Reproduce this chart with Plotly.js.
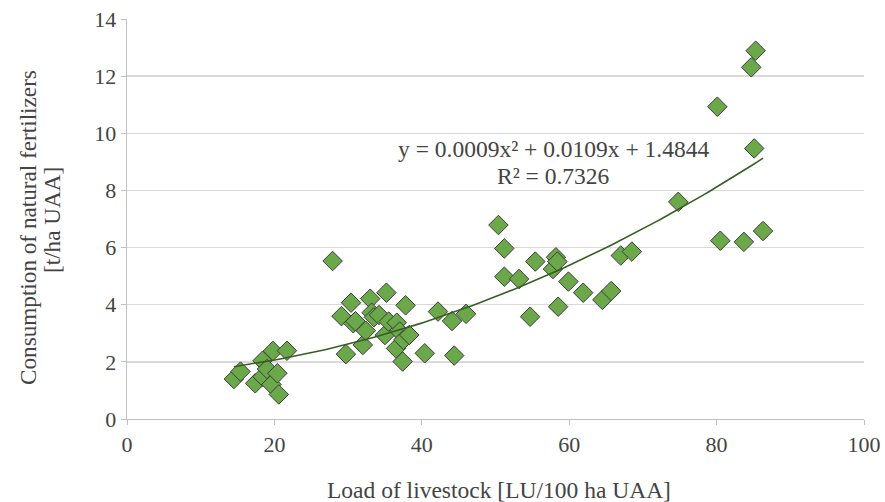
<!DOCTYPE html>
<html>
<head>
<meta charset="utf-8">
<script src="https://cdn.plot.ly/plotly-3.0.1.min.js"></script>
<style>html,body{margin:0;padding:0;background:#fff;}</style>
</head>
<body>
<div id="chart" style="width:885px;height:502px"></div>
<script>
// Load of livestock [LU/100 ha UAA]
const livestock = [14.5, 15.4, 17.4, 18.4, 18.4, 19.0, 19.6, 19.8, 20.4, 20.6, 21.7,
  27.9, 29.1, 29.7, 30.4, 30.7, 31.0, 32.0, 32.4, 33.0, 33.2, 33.5, 34.2, 35.0, 35.2, 35.5,
  36.5, 36.6, 37.0, 37.4, 37.5, 37.8, 38.3, 40.4, 42.2, 44.1, 44.4, 46.0,
  50.4, 51.2, 51.2, 53.2, 54.7, 55.4, 57.8, 58.2, 58.4, 58.5, 59.9, 61.9, 64.5, 65.7, 67.0, 68.5,
  74.8, 80.1, 80.5, 83.7, 84.7, 85.1, 85.3, 86.3];
// Consumption of natural fertilizers [t/ha UAA]
const fertilizer = [1.40, 1.66, 1.25, 2.04, 1.48, 1.75, 1.21, 2.38, 1.60, 0.86, 2.39,
  5.53, 3.60, 2.27, 4.07, 3.35, 3.42, 2.59, 3.09, 4.21, 3.72, 3.56, 3.64, 2.94, 4.42, 3.41,
  2.47, 3.37, 3.06, 2.01, 2.77, 3.98, 2.94, 2.30, 3.76, 3.43, 2.22, 3.68,
  6.79, 5.97, 4.98, 4.90, 3.58, 5.51, 5.25, 5.66, 5.51, 3.93, 4.81, 4.42, 4.17, 4.48, 5.72, 5.86,
  7.60, 10.93, 6.24, 6.20, 12.31, 9.47, 12.89, 6.58];
// Polynomial trendline coefficients (from the chart's equation)
const trendCoef = [0.0009, 0.0109, 1.4844]; // a, b, c
const trendLabel = ["y = 0.0009x\u00b2 + 0.0109x + 1.4844", "R\u00b2 = 0.7326"];
const xTitle = "Load of livestock [LU/100 ha UAA]";
const yTitleLines = ["Consumption of natural fertilizers", "[t/ha UAA]"];
const xTicks = [0, 20, 40, 60, 80, 100];
const yTicks = [0, 2, 4, 6, 8, 10, 12, 14];

const xmin = Math.min(...livestock), xmax = Math.max(...livestock);
const tx = [], ty = [];
for (let i = 0; i <= 100; i++) {
  const x = xmin + (xmax - xmin) * i / 100;
  tx.push(x);
  ty.push(trendCoef[0] * x * x + trendCoef[1] * x + trendCoef[2]);
}

const data = [
  {x: livestock, y: fertilizer, type: 'scatter', mode: 'markers',
   marker: {symbol: 'diamond', size: 15, color: '#6aa84a', line: {color: '#3d3d3d', width: 1}},
   hoverinfo: 'x+y', showlegend: false},
  {x: tx, y: ty, type: 'scatter', mode: 'lines',
   line: {color: '#375f22', width: 1.6}, hoverinfo: 'skip', showlegend: false}
];

const layout = {
  width: 885, height: 502,
  margin: {l: 127, r: 21, t: 19, b: 83},
  paper_bgcolor: '#fff', plot_bgcolor: '#fff',
  font: {family: 'Liberation Serif', size: 22},
  showlegend: false,
  xaxis: {range: [0, 100], tickvals: xTicks, ticktext: xTicks.map(String),
    showgrid: false, zeroline: false, showline: true, linecolor: '#c0c0c0', linewidth: 1.3,
    ticks: 'outside', ticklen: 5, tickcolor: '#c0c0c0'},
  yaxis: {range: [0, 14], tickvals: yTicks, ticktext: yTicks.map(String),
    showgrid: true, gridcolor: '#d9d9d9', gridwidth: 1.3, zeroline: false,
    showline: true, linecolor: '#c0c0c0', linewidth: 1.3,
    ticks: 'outside', ticklen: 5, tickcolor: '#c0c0c0'},
  annotations: [
    {xref: 'x', yref: 'y', x: 57.9, y: 9.45, text: trendLabel[0], showarrow: false,
     font: {size: 23.5}, xanchor: 'center', yanchor: 'middle'},
    {xref: 'x', yref: 'y', x: 57.9, y: 8.52, text: trendLabel[1], showarrow: false,
     font: {size: 23.5}, xanchor: 'center', yanchor: 'middle'},
    {xref: 'paper', yref: 'paper', x: 0.505, y: -0.1775, text: xTitle, showarrow: false,
     font: {size: 23.5}, xanchor: 'center', yanchor: 'middle'},
    {xref: 'paper', yref: 'paper', x: (28 - 127) / 737, y: (419 - 228) / 400, text: yTitleLines[0],
     showarrow: false, textangle: -90, font: {size: 23.2}, xanchor: 'center', yanchor: 'middle'},
    {xref: 'paper', yref: 'paper', x: (52 - 127) / 737, y: (419 - 220) / 400, text: yTitleLines[1],
     showarrow: false, textangle: -90, font: {size: 23.2}, xanchor: 'center', yanchor: 'middle'}
  ]
};

Plotly.newPlot('chart', data, layout, {staticPlot: true});
</script>
</body>
</html>
